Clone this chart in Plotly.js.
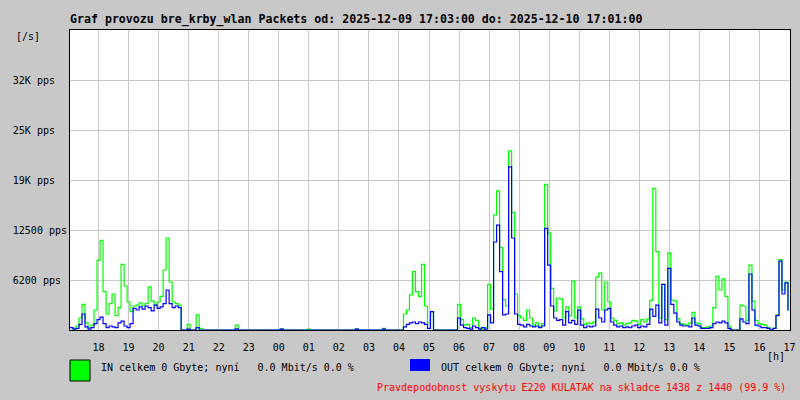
<!DOCTYPE html>
<html>
<head>
<meta charset="utf-8">
<script src="https://cdn.plot.ly/plotly-3.0.1.min.js"></script>
<style>html,body{margin:0;padding:0;background:#c8c8c8;}#chart{width:800px;height:400px;}</style>
</head>
<body>
<div id="chart"></div>
<script>
// Sampling: one value every 6 minutes starting 2025-12-09 17:03
const START = Date.UTC(2025, 11, 9, 17, 3);
const STEP_MIN = 6;

const inPps = [
  300,200,500,1500,3200,900,300,600,2500,8700,
  11200,4800,2000,3300,4500,1800,2800,8200,5500,3500,
  2300,3000,3100,3400,3000,3300,5400,3600,3200,3500,
  4200,7500,11500,6000,3500,3300,3100,0,0,700,
  0,0,1900,200,
  0,0,0,0,0,0,0,0,0,0,
  0,600,0,0,0,0,0,0,0,0,
  0,0,0,0,0,0,150,0,0,0,
  0,0,0,0,0,100,0,0,0,0,
  0,0,0,0,0,0,0,0,0,0,
  0,150,0,0,0,0,0,0,0,0,
  200,0,0,
  0,0,0,0,
  2000,2500,4400,7300,4800,4200,8200,3000,900,2300,
  0,0,0,0,0,0,0,0,3200,1300,
  600,700,300,1500,1200,200,100,300,5700,2600,
  14400,17400,10300,3800,3000,22400,14700,4500,1800,1500,
  1200,2500,1500,
  600,900,400,800,18200,12100,5200,2400,4000,3900,
  1500,2900,1800,6100,1500,2900,1400,700,900,800,
  1000,6600,7100,2500,6000,3500,1500,1200,800,900,
  600,800,900,1200,1100,700,1300,1000,1400,3700,
  17700,9800,1500,5700,1300,9600,
  3750,3600,1400,800,700,600,900,2200,900,800,
  300,300,400,500,2800,6700,5000,6400,4200,500,
  0,0,0,3100,3000,1200,8100,3600,1200,800,
  700,600,300,0,200,1900,8800,5000,6000,2500
];

const outPps = [
  300,100,200,700,2000,400,100,300,800,1300,
  1600,800,300,500,400,300,900,1100,500,300,
  800,2700,2500,2900,2600,3000,2800,2400,3100,2700,
  2900,3300,5000,3300,2800,3000,2800,0,0,100,
  0,0,300,0,
  0,0,0,0,0,0,0,0,0,0,
  0,150,0,0,0,0,0,0,0,0,
  0,0,0,0,0,0,100,0,0,0,
  0,0,0,0,0,0,0,0,0,0,
  0,0,0,0,0,0,0,0,0,0,
  0,100,0,0,0,0,0,0,0,0,
  100,0,0,
  0,0,0,0,
  400,700,900,1000,800,1000,900,700,200,2300,
  0,0,0,0,0,0,0,0,1500,600,
  300,200,100,500,300,100,300,100,1900,900,
  11000,13100,7300,1900,2000,20400,11500,2000,700,600,
  400,700,500,
  400,500,300,500,12700,8100,3000,1500,1200,1300,
  600,2300,900,1200,700,2500,600,300,500,400,
  500,2600,1500,1000,2500,2700,1000,600,400,500,
  300,400,300,500,600,300,500,400,700,2600,
  1700,3100,900,5700,600,7700,
  3200,2100,1000,600,500,500,400,1500,600,500,
  200,200,200,300,800,1000,900,1100,900,200,
  0,0,0,1400,1000,800,7000,2500,600,500,
  300,300,200,0,200,1800,8600,4500,5900,2400
];

const yTickVals = [6250, 12500, 18750, 25000, 31250];
const yTickText = ['6200 pps', '12500 pps', '19K pps', '25K pps', '32K pps'];

const titleText = 'Graf provozu bre_krby_wlan Packets od: 2025-12-09 17:03:00 do: 2025-12-10 17:01:00';
const inLegend = 'IN celkem 0 Gbyte; nyní   0.0 Mbit/s 0.0 %';
const outLegend = 'OUT celkem 0 Gbyte; nyní   0.0 Mbit/s 0.0 %';
const noteText = 'Pravdepodobnost vyskytu E220 KULATAK na skladce 1438 z 1440 (99.9 %)';

function ts(ms) { return new Date(ms).toISOString().slice(0, 19).replace('T', ' '); }
const times = inPps.map((_, i) => ts(START + i * STEP_MIN * 60000));
const nb = s => s.replace(/ /g, '\u00a0');
const pad = (s, n) => nb(s + ' '.repeat(Math.max(0, n - s.length)));

const MONO = 'DejaVu Sans Mono, monospace';

const traces = [
  { x: times, y: inPps, type: 'scatter', mode: 'lines', line: { color: '#00ff00', width: 1.2, shape: 'hv' }, name: 'IN', hoverinfo: 'skip' },
  { x: times, y: outPps, type: 'scatter', mode: 'lines', line: { color: '#0000ff', width: 1.2, shape: 'hv' }, name: 'OUT', hoverinfo: 'skip' }
];

const layout = {
  width: 800, height: 400,
  paper_bgcolor: '#c8c8c8', plot_bgcolor: '#ffffff',
  margin: { l: 70, r: 10, t: 30, b: 70, pad: 0 },
  showlegend: false,
  font: { family: MONO, size: 10, color: '#000' },
  title: {
    text: titleText,
    font: { family: MONO, size: 11.6, color: '#000', weight: 'bold' },
    xref: 'paper', x: 0, xanchor: 'left',
    yref: 'container', y: 1 - 19 / 400, yanchor: 'middle'
  },
  xaxis: {
    type: 'date',
    range: ['2025-12-09 17:03:00', '2025-12-10 17:01:00'],
    tick0: '2025-12-09 18:00:00', dtick: 3600000, tickformat: '%H',
    showgrid: true, gridcolor: '#c8c8c8', gridwidth: 1,
    showline: true, linecolor: '#000', linewidth: 1, mirror: true,
    ticks: '', ticklabelstandoff: 8, zeroline: false,
    tickfont: { family: MONO, size: 10, color: '#000' }
  },
  yaxis: {
    range: [0, 37500],
    tickmode: 'array', tickvals: yTickVals, ticktext: yTickText.map(t => pad(t, 9)),
    showgrid: true, gridcolor: '#c8c8c8', gridwidth: 1,
    showline: true, linecolor: '#000', linewidth: 1, mirror: true,
    ticks: '', ticklabelstandoff: 0, zeroline: false,
    tickfont: { family: MONO, size: 10, color: '#000' }
  },
  shapes: [
    { type: 'rect', xref: 'paper', yref: 'paper', x0: 0, x1: 20 / 720, y0: (330 - 381) / 300, y1: (330 - 360) / 300,
      fillcolor: '#00ff00', line: { color: '#000', width: 1 } },
    { type: 'rect', xref: 'paper', yref: 'paper', x0: 340 / 720, x1: 360 / 720, y0: (330 - 371) / 300, y1: (330 - 359) / 300,
      fillcolor: '#0000ff', line: { width: 0 } }
  ],
  annotations: [
    { text: '[/s]', xref: 'paper', yref: 'paper', x: (14 - 70) / 720, y: 1 - 7 / 300, xanchor: 'left', yanchor: 'middle', showarrow: false, font: { family: MONO, size: 10, color: '#000' } },
    { text: '[h]', xref: 'paper', yref: 'paper', x: (787 - 70) / 720, y: (330 - 356) / 300, xanchor: 'right', yanchor: 'middle', showarrow: false, font: { family: MONO, size: 10, color: '#000' } },
    { text: nb(inLegend), xref: 'paper', yref: 'paper', x: (99 - 70) / 720, y: (330 - 367) / 300, xanchor: 'left', yanchor: 'middle', showarrow: false, font: { family: MONO, size: 10, color: '#000' } },
    { text: nb(outLegend), xref: 'paper', yref: 'paper', x: (439 - 70) / 720, y: (330 - 367) / 300, xanchor: 'left', yanchor: 'middle', showarrow: false, font: { family: MONO, size: 10, color: '#000' } },
    { text: nb(noteText), xref: 'paper', yref: 'paper', x: (788 - 70) / 720, y: (330 - 387) / 300, xanchor: 'right', yanchor: 'middle', showarrow: false, font: { family: MONO, size: 10, color: '#ff0000' } }
  ]
};

Plotly.newPlot('chart', traces, layout, { staticPlot: true, displayModeBar: false });
</script>
</body>
</html>
